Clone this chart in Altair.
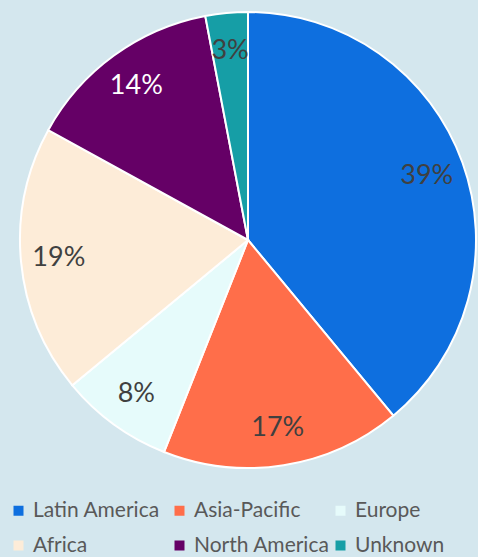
import altair as alt
import pandas as pd

regions = ["Latin America", "Asia-Pacific", "Europe", "Africa", "North America", "Unknown"]
shares = [39, 17, 8, 19, 14, 3]
colors = ["#0e6fdf", "#ff6e4a", "#e6fbfb", "#fdecd8", "#650066", "#169ea6"]

df = pd.DataFrame({
    "region": regions,
    "share": shares,
    "idx": list(range(len(regions))),
    "label": [f"{v}%" for v in shares],
})

base = alt.Chart(df).encode(
    theta=alt.Theta("share:Q", stack=True),
    order=alt.Order("idx:Q"),
)

pie = base.mark_arc(outerRadius=228, stroke="white", strokeWidth=2, x=248, y=240).encode(
    color=alt.Color(
        "region:N",
        scale=alt.Scale(domain=regions, range=colors),
        sort=regions,
        legend=alt.Legend(
            title=None,
            orient="none",
            legendX=8,
            legendY=500,
            direction="horizontal",
            columns=3,
            symbolType="square",
            symbolSize=100,
            symbolStrokeWidth=0,
            labelFont="Lato",
            labelFontSize=21,
            labelColor="#595959",
            labelOffset=4,
            columnPadding=0,
            rowPadding=13,
            gridAlign="all",
            labelLimit=300,
            symbolOffset=0,
        ),
    ),
)

labels = base.mark_text(radius=190, font="Lato", fontSize=27, x=248, y=240).encode(
    text="label:N",
    color=alt.condition(alt.datum.region == "North America", alt.value("white"), alt.value("#404040")),
)

chart = (pie + labels).properties(
    width=478, height=557,
    autosize=alt.AutoSizeParams(type="none"),
    padding=0,
    background="#d4e7ee",
).configure_view(stroke=None)

chart.save("out.html", embed_options={"renderer": "svg", "actions": False})
